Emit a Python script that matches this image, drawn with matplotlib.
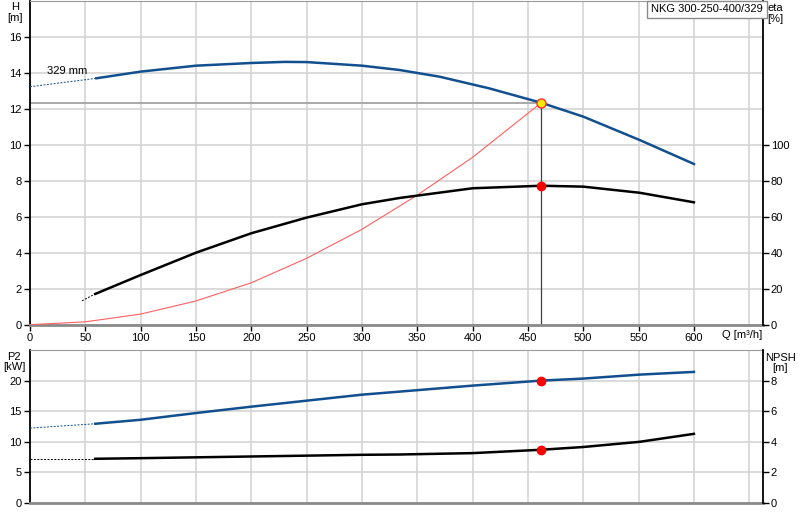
import matplotlib
matplotlib.use("Agg")
import matplotlib.pyplot as plt

plt.rcParams['font.family'] = ['Liberation Sans', 'DejaVu Sans']
plt.rcParams['font.size'] = 8

# pump curve H (solid part) and the dashed extension towards Q=0
q_h = [60, 100, 150, 200, 230, 250, 300, 334, 370, 415, 462, 500, 551, 600]
h = [13.69, 14.06, 14.39, 14.54, 14.6, 14.59, 14.39, 14.15, 13.78, 13.13, 12.33, 11.56, 10.26, 8.93]
q_h_ext = [0, 60]
h_ext = [13.22, 13.69]

# efficiency
q_eta = [59, 100, 150, 200, 250, 300, 334, 400, 462, 500, 551, 600]
eta = [17.1, 27.6, 40.0, 50.8, 59.5, 66.9, 70.4, 75.8, 77.2, 76.7, 73.3, 68.0]
q_eta_ext = [47, 59]
eta_ext = [13.3, 17.1]

# system curve
q_sys = [0, 50, 100, 150, 200, 250, 300, 350, 400, 462]
h_sys = [0, 0.16, 0.59, 1.32, 2.33, 3.69, 5.3, 7.2, 9.3, 12.33]

# power P2
q_p2 = [59, 100, 150, 200, 250, 300, 334, 400, 462, 500, 551, 600]
p2 = [12.95, 13.6, 14.7, 15.74, 16.72, 17.7, 18.2, 19.18, 20.0, 20.33, 20.98, 21.42]
q_p2_ext = [0, 59]
p2_ext = [12.24, 12.95]

# NPSH
q_npsh = [59, 100, 200, 300, 334, 400, 462, 500, 551, 600]
npsh = [2.89, 2.93, 3.04, 3.15, 3.17, 3.26, 3.48, 3.66, 4.0, 4.52]
q_npsh_ext = [0, 59]
npsh_ext = [2.89, 2.89]

# duty point
q_op = 462
h_op = 12.33
eta_op = 77.2
p2_op = 20.0
npsh_op = 3.48

q_ticks = list(range(0, 601, 50))

BLUE = '#114f8e'
GRID = '#d4d4d4'

W, H = 800, 520
fig = plt.figure(figsize=(W / 100, H / 100), dpi=100)


def px_axes(left, top, right, bottom):
    return fig.add_axes([left / W, 1 - bottom / H, (right - left) / W, (bottom - top) / H])


def style(ax, twin):
    ax.set_xlim(0, 662)
    ax.set_xticks(q_ticks)
    ax.set_xticks([650], minor=True)
    ax.grid(True, which='both', axis='x', color=GRID, lw=1.2)
    ax.grid(True, which='major', axis='y', color=GRID, lw=1.2)
    ax.set_axisbelow(True)
    ax.spines['left'].set_color('black')
    ax.spines['left'].set_linewidth(1.3)
    ax.spines['top'].set_color('#9a9a9a')
    ax.spines['bottom'].set_color('#8a8a8a')
    ax.spines['bottom'].set_linewidth(2)
    ax.spines['right'].set_visible(False)
    ax.tick_params(axis='both', which='major', length=4, width=1, direction='out', pad=2)
    ax.tick_params(axis='x', which='minor', length=0)
    for s in ['left', 'top', 'bottom']:
        twin.spines[s].set_visible(False)
    twin.spines['right'].set_color('black')
    twin.spines['right'].set_linewidth(1.3)
    twin.tick_params(axis='y', length=4, width=1, direction='out', pad=2)


# ---- upper chart: H / eta ----
ax1 = px_axes(30, 0.7, 762.5, 324.7)
ax1b = ax1.twinx()
style(ax1, ax1b)
ax1.set_ylim(0, 18)
ax1.set_yticks(range(0, 17, 2))
ax1b.set_ylim(0, 180)
ax1b.set_yticks(range(0, 101, 20))

ax1.plot([0, q_op], [h_op, h_op], color='#a8a8a8', lw=1.4, zorder=2)
ax1.plot([q_op, q_op], [0, h_op], color='#404040', lw=0.9, zorder=2)
ax1.plot(q_sys, h_sys, color='#ff6060', lw=0.8, zorder=3)
ax1.plot(q_h_ext, h_ext, color=BLUE, lw=0.7, ls=(0, (2, 1.5)), zorder=3)
ax1.plot(q_h, h, color=BLUE, lw=1.8, zorder=4)
ax1b.plot(q_eta_ext, eta_ext, color='black', lw=0.7, ls=(0, (2, 1.5)), zorder=3)
ax1b.plot(q_eta, eta, color='black', lw=1.8, zorder=4)
ax1b.plot([q_op], [eta_op], 'o', color='red', ms=6, zorder=5)
ax1.plot([q_op], [h_op], 'o', mfc='#ffe800', mec='#ff3030', mew=1, ms=6.5, zorder=6)
ax1.text(15, 14.1, '329 mm', ha='left', va='center', fontsize=8)

# ---- lower chart: P2 / NPSH ----
ax2 = px_axes(30, 350, 762.5, 503)
ax2b = ax2.twinx()
style(ax2, ax2b)
ax2.set_ylim(0, 25)
ax2.set_yticks(range(0, 21, 5))
ax2.tick_params(axis='x', which='major', length=0, labelbottom=False)
ax2b.set_ylim(0, 10)
ax2b.set_yticks(range(0, 9, 2))

ax2.plot(q_p2_ext, p2_ext, color=BLUE, lw=0.7, ls=(0, (2, 1.5)), zorder=3)
ax2.plot(q_p2, p2, color=BLUE, lw=1.8, zorder=4)
ax2.plot([q_op], [p2_op], 'o', color='red', ms=6, zorder=5)
ax2b.plot(q_npsh_ext, npsh_ext, color='black', lw=0.7, ls=(0, (2, 1.5)), zorder=3)
ax2b.plot(q_npsh, npsh, color='black', lw=1.8, zorder=4)
ax2b.plot([q_op], [npsh_op], 'o', color='red', ms=6, zorder=5)

# axis captions
fig.text(15 / W, 1 - 12.5 / H, 'H\n[m]', ha='center', va='center', fontsize=8, linespacing=1.1)
fig.text(767 / W, 1 - 13.5 / H, 'eta\n[%]', ha='left', va='center', fontsize=8, linespacing=1.1)
fig.text(14 / W, 1 - 362 / H, 'P2\n[kW]', ha='center', va='center', fontsize=8, linespacing=1.1)
fig.text(780 / W, 1 - 363 / H, 'NPSH\n[m]', ha='center', va='center', fontsize=8, linespacing=1.1)
fig.text(722 / W, 1 - 335 / H, 'Q [m³/h]', ha='left', va='center', fontsize=8)
fig.text(707 / W, 1 - 9.5 / H, 'NKG 300-250-400/329', ha='center', va='center', fontsize=8,
         bbox=dict(boxstyle='square,pad=0.35', fc='white', ec='#8a8a8a', lw=1))

fig.savefig('out.png', dpi=100)
